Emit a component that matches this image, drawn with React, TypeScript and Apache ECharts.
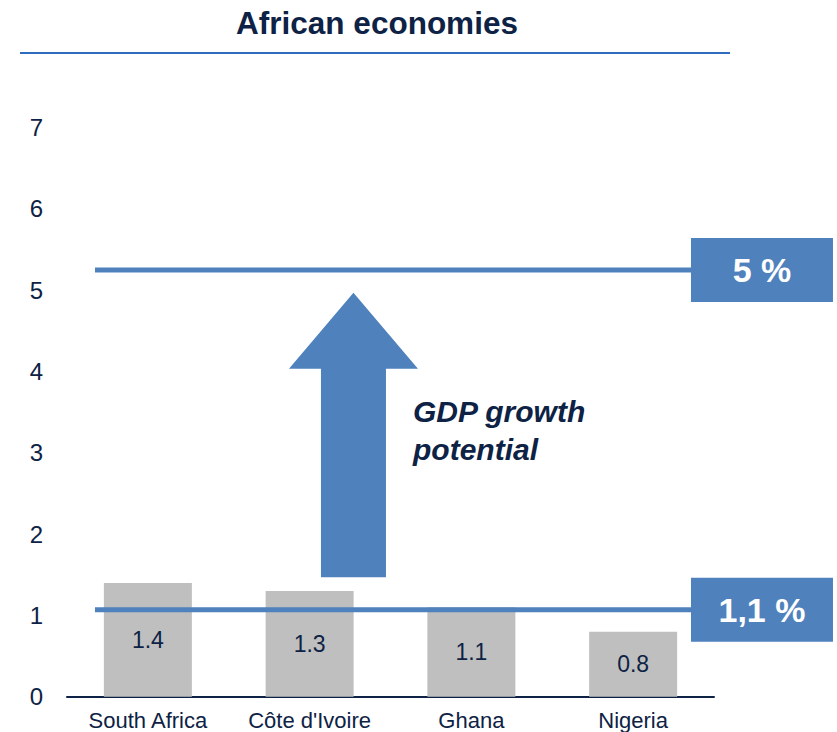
import React, { useEffect, useRef } from "react";
import * as echarts from "echarts";

const categories = ["South Africa", "Côte d'Ivoire", "Ghana", "Nigeria"];
const gdpValues = [1.4, 1.3, 1.1, 0.8];
const yTicks = [0, 1, 2, 3, 4, 5, 6, 7];
const thresholdValues = [5.25, 1.07];
const thresholdLabels = ["5 %", "1,1 %"];
const thresholdStart = [0.173, 0.173];
const thresholdEnd = [3.87, 3.87];
const arrowX = [1.771];
const arrowFrom = [1.47];
const arrowTo = [4.97];
const titleText = "African economies";
const noteLines = ["GDP growth", "potential"];

const NAVY = "#0d2244";
const BLUE = "#4f81bd";
const GREY = "#bfbfbf";
const FONT = "'Liberation Sans', Arial, sans-serif";

export default function App() {
  const ref = useRef<HTMLDivElement>(null);
  useEffect(() => {
    if (!ref.current) return;
    const chart = echarts.init(ref.current, null, { renderer: "svg" });

    const thresholdData = thresholdValues.map((v, i) => [thresholdStart[i], thresholdEnd[i], v, i]);
    const arrowData = arrowX.map((x, i) => [x, arrowFrom[i], arrowTo[i]]);

    chart.setOption({
      animation: false,
      backgroundColor: "#ffffff",
      textStyle: { fontFamily: FONT },
      grid: { left: 67, right: 123, top: 127.6, bottom: 35.3 },
      xAxis: [
        {
          type: "category",
          data: categories,
          axisLine: { show: true, lineStyle: { color: NAVY, width: 2 } },
          axisTick: { show: false },
          axisLabel: { color: NAVY, fontSize: 22, margin: 13, fontFamily: FONT },
          splitLine: { show: false },
        },
        {
          type: "value",
          min: 0,
          max: 4,
          show: false,
        },
      ],
      yAxis: {
        type: "value",
        min: yTicks[0],
        max: yTicks[yTicks.length - 1],
        interval: 1,
        axisLine: { show: false },
        axisTick: { show: false },
        splitLine: { show: false },
        axisLabel: { color: NAVY, fontSize: 24, margin: 24, fontFamily: FONT },
      },
      graphic: [
        {
          type: "text",
          x: 377,
          y: 23,
          style: {
            text: titleText,
            fill: NAVY,
            font: `bold 31.5px ${FONT}`,
            textAlign: "center",
            textVerticalAlign: "middle",
          },
        },
        {
          type: "line",
          shape: { x1: 20, y1: 53, x2: 730, y2: 53 },
          style: { stroke: "#2f6cc0", lineWidth: 2 },
        },
        {
          type: "text",
          x: 413,
          y: 411,
          z: 10,
          style: {
            text: noteLines[0],
            fill: NAVY,
            font: `italic bold 30px ${FONT}`,
            textAlign: "left",
            textVerticalAlign: "middle",
          },
        },
        {
          type: "text",
          x: 413,
          y: 449,
          z: 10,
          style: {
            text: noteLines[1],
            fill: NAVY,
            font: `italic bold 30px ${FONT}`,
            textAlign: "left",
            textVerticalAlign: "middle",
          },
        },
      ],
      series: [
        {
          type: "bar",
          data: gdpValues,
          barWidth: 88,
          itemStyle: { color: GREY },
          z: 1,
          label: {
            show: true,
            position: "inside",
            color: NAVY,
            fontSize: 23,
            fontFamily: FONT,
          },
        },
        {
          type: "custom",
          xAxisIndex: 1,
          yAxisIndex: 0,
          z: 5,
          clip: false,
          data: arrowData,
          renderItem: (params: any, api: any) => {
            const base = api.coord([api.value(0), api.value(1)]);
            const tip = api.coord([api.value(0), api.value(2)]);
            const cx = base[0];
            const shaftHalf = 32.5;
            const headHalf = 64.5;
            const headLen = 76;
            const headBaseY = tip[1] + headLen;
            return {
              type: "polygon",
              shape: {
                points: [
                  [cx - shaftHalf, base[1]],
                  [cx - shaftHalf, headBaseY],
                  [cx - headHalf, headBaseY],
                  [cx, tip[1]],
                  [cx + headHalf, headBaseY],
                  [cx + shaftHalf, headBaseY],
                  [cx + shaftHalf, base[1]],
                ],
              },
              style: { fill: BLUE },
            };
          },
        },
        {
          type: "custom",
          xAxisIndex: 1,
          yAxisIndex: 0,
          z: 6,
          clip: false,
          data: thresholdData,
          renderItem: (params: any, api: any) => {
            const p0 = api.coord([api.value(0), api.value(2)]);
            const p1 = api.coord([api.value(1), api.value(2)]);
            const idx = api.value(3);
            const boxW = 142;
            const boxH = 64;
            const boxX = p1[0] - 2;
            return {
              type: "group",
              children: [
                {
                  type: "line",
                  shape: { x1: p0[0], y1: p0[1], x2: p1[0], y2: p1[1] },
                  style: { stroke: BLUE, lineWidth: 5 },
                },
                {
                  type: "rect",
                  shape: { x: boxX, y: p1[1] - boxH / 2, width: boxW, height: boxH },
                  style: { fill: BLUE },
                },
                {
                  type: "text",
                  x: boxX + boxW / 2,
                  y: p1[1],
                  style: {
                    text: thresholdLabels[idx],
                    fill: "#ffffff",
                    font: `bold 34px ${FONT}`,
                    textAlign: "center",
                    textVerticalAlign: "middle",
                  },
                },
              ],
            };
          },
        },
      ],
    });
    return () => chart.dispose();
  }, []);

  return (
    <div
      ref={ref}
      style={{ position: "fixed", left: 0, top: 0, width: 837, height: 732, background: "#fff" }}
    />
  );
}
